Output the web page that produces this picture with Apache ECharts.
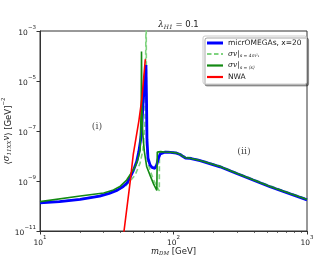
<!DOCTYPE html>
<html><head><meta charset="utf-8">
<script src="https://cdn.jsdelivr.net/npm/echarts@6/dist/echarts.min.js"></script>
<style>html,body{margin:0;padding:0;background:#fff}#c{width:327px;height:260px}</style>
</head><body><div id="c"></div>
<script>
// x: dark matter mass m_DM [GeV], y: <sigma v> [GeV^-2]
const seriesNames = ['micrOMEGAs, x=20', 'sv4m', 'svs', 'NWA'];
const xTicks = [10, 100, 1000];
const yTicks = [1e-11, 1e-9, 1e-7, 1e-5, 1e-3];
const xMinor = [20,30,40,50,60,70,80,90,200,300,400,500,600,700,800,900];

const micrOMEGAs = [[10,1.35e-10],[14,1.5e-10],[20,1.85e-10],[28,2.5e-10],[33,3.2e-10],[38,4.3e-10],[42,6e-10],[45,8.5e-10],[47,1.3e-9],[50,2.6e-9],[53,6e-9],[55,1.5e-8],[57.2,6e-8],[59.4,1.7e-6],[62.2,4.4e-5],[62.8,1.7e-6],[63.3,4.4e-8],[64.4,8.3e-9],[66.7,4.4e-9],[69,3.5e-9],[72.5,3.2e-9],[75,4.5e-9],[77,8e-9],[79.5,1.2e-8],[86,1.42e-8],[95,1.4e-8],[105,1.3e-8],[112,1.15e-8],[118,9.5e-9],[123,8.3e-9],[133,8.0e-9],[158,6.5e-9],[223,3.7e-9],[297,2.0e-9],[528,5.9e-10],[1000,1.75e-10]];

const svS4m2 = [[10,1.37e-10],[14,1.52e-10],[20,1.88e-10],[28,2.55e-10],[33,3.25e-10],[38,4.3e-10],[42,5.8e-10],[44,6.5e-10],[47.2,1e-9],[51.5,1.7e-9],[56.2,5.2e-9],[59,1.7e-8],[61.1,2e-7],[62.45,1e-2],[62.55,1e-2],[62.8,3e-8],[64,6e-9],[67,2.5e-9],[71,1.1e-9],[75,6e-10],[78.3,4e-10],[78.5,1.4e-8],[82,1.55e-8],[86,1.52e-8],[95,1.5e-8],[105,1.4e-8],[112,1.24e-8],[118,1.02e-8],[123,8.9e-9],[133,8.6e-9],[158,7e-9],[223,4e-9],[297,2.15e-9],[528,6.4e-10],[1000,1.9e-10]];

const svSavg = [[10,1.5e-10],[20,2.5e-10],[30,3.3e-10],[35.5,4.4e-10],[40,6.2e-10],[44.6,1.1e-9],[48,2e-9],[51.6,3.7e-9],[54,7e-9],[56.2,1.7e-8],[57.3,1e-6],[57.6,1.5e-4],[57.9,1e-6],[58.8,8.3e-8],[60.5,1.5e-8],[63,3.7e-9],[67,1.6e-9],[71,7.5e-10],[75,4.2e-10],[75.6,1.45e-8],[80,1.5e-8],[86,1.45e-8],[95,1.42e-8],[105,1.32e-8],[112,1.17e-8],[118,9.7e-9],[123,8.5e-9],[133,8.2e-9],[158,6.6e-9],[223,3.8e-9],[297,2.05e-9],[528,6e-10],[1000,1.8e-10]];

const nwa = [[41.5,3e-12],[42.6,1e-11],[47.2,8e-10],[50,1.2e-8],[55,2.5e-7],[58,2e-6],[61.5,7.4e-5]];

const regionLabels = [[26.7,1.45e-7,'(i)'],[337,1.45e-8,'(ii)']];

const FONT = 'DejaVu Sans';
const supRich = {
  b: {fontFamily: FONT, fontSize: 7.5, color: '#222', lineHeight: 12, verticalAlign: 'bottom'},
  e: {fontFamily: FONT, fontSize: 5.5, color: '#222', verticalAlign: 'top'}
};
function powLabel(v) {
  const e = Math.round(Math.log10(v));
  return '{b|10}{e|' + String(e).replace('-', '\u2212') + '}';
}

const chart = echarts.init(document.getElementById('c'), null, {renderer: 'canvas'});
const legendRich = {
  n: {fontFamily: FONT, fontSize: 7.5, color: '#222'},
  it: {fontFamily: 'DejaVu Serif', fontStyle: 'italic', fontSize: 7.5, color: '#222'},
  sub: {fontFamily: 'DejaVu Serif', fontStyle: 'italic', fontSize: 4.5, color: '#222', verticalAlign: 'bottom', lineHeight: 9}
};
const legendFmt = {
  'micrOMEGAs, x=20': '{n|micrOMEGAs, x=20}',
  'sv4m': '{it|σv}{n||}{sub|s = 4m²₁}',
  'svs': '{it|σv}{n||}{sub|s = ⟨s⟩}',
  'NWA': '{n|NWA}'
};
const solidIcon = 'path://M0,0h16v2.2h-16z';
const thickIcon = 'path://M0,0h16v3h-16z';
const dashIcon = 'path://M0,0h4.5v2h-4.5z M7,0h4.5v2h-4.5z M14,0h2v2h-2z';

chart.setOption({
  animation: false,
  backgroundColor: '#fff',
  title: {
    text: '{l|λ}{s|H1}{t| = 0.1}',
    left: 173.5, top: 14, textAlign: 'center',
    textStyle: {
      fontWeight: 'normal',
      rich: {
        l: {fontFamily: 'DejaVu Serif', fontStyle: 'italic', fontWeight: 'normal', fontSize: 8.5, color: '#222'},
        s: {fontFamily: 'DejaVu Serif', fontStyle: 'italic', fontWeight: 'normal', fontSize: 6, color: '#222', verticalAlign: 'bottom', lineHeight: 11},
        t: {fontFamily: FONT, fontWeight: 'normal', fontSize: 8.5, color: '#222'}
      }
    }
  },
  grid: {left: 40, right: 20, top: 31, bottom: 29, containLabel: false, outerBoundsMode: 'none', show: true, borderColor: '#333', borderWidth: 1, backgroundColor: 'transparent'},
  legend: {
    data: [
      {name: seriesNames[0], icon: thickIcon},
      {name: seriesNames[1], icon: dashIcon},
      {name: seriesNames[2], icon: solidIcon},
      {name: seriesNames[3], icon: solidIcon}
    ],
    orient: 'vertical',
    left: 203, top: 36,
    itemWidth: 16, itemHeight: 8, itemGap: 3,
    padding: [3, 5, 3, 4],
    backgroundColor: '#fff', borderColor: '#ccc', borderWidth: 1, borderRadius: 2,
    shadowColor: 'rgba(0,0,0,0.35)', shadowOffsetX: 2, shadowOffsetY: 2, shadowBlur: 0,
    formatter: n => legendFmt[n],
    textStyle: {fontFamily: FONT, fontSize: 7.5, color: '#222', rich: legendRich}
  },
  xAxis: [{
    type: 'log', logBase: 10, min: 10, max: 1000, interval: 1,
    name: '{it|m}{sub|DM}{n| [GeV]}', nameLocation: 'middle', nameGap: 16, nameMoveOverlap: false,
    nameTextStyle: {rich: {
      it: {fontFamily: 'DejaVu Serif', fontStyle: 'italic', fontSize: 8.5, color: '#222'},
      sub: {fontFamily: 'DejaVu Serif', fontStyle: 'italic', fontSize: 5.5, color: '#222', verticalAlign: 'bottom', lineHeight: 10},
      n: {fontFamily: FONT, fontSize: 8.5, color: '#222'}
    }},
    axisLine: {show: true, lineStyle: {color: '#333', width: 1}},
    axisTick: {show: true, length: 3.5, inside: false, lineStyle: {color: '#333'}},
    axisLabel: {formatter: powLabel, margin: 4, rich: supRich},
    splitLine: {show: false}
  }, {
    type: 'log', logBase: 10, min: 10, max: 1000, position: 'bottom',
    axisLine: {show: false},
    axisTick: {show: true, length: 2, customValues: xMinor, lineStyle: {color: '#333', width: 0.7}},
    axisLabel: {show: false},
    splitLine: {show: false}
  }],
  yAxis: {
    type: 'log', logBase: 10, min: 1e-11, max: 1e-3, interval: 2,
    name: '{n|⟨}{it|σ}{sub|11XX}{it|v}{n|⟩ [GeV]}{sup|−2}', nameLocation: 'middle', nameGap: 27, nameRotate: 90, nameMoveOverlap: false,
    nameTextStyle: {rich: {
      it: {fontFamily: 'DejaVu Serif', fontStyle: 'italic', fontSize: 8.5, color: '#222'},
      sub: {fontFamily: 'DejaVu Serif', fontStyle: 'italic', fontSize: 5.5, color: '#222', verticalAlign: 'bottom', lineHeight: 10},
      sup: {fontFamily: FONT, fontSize: 5.5, color: '#222', verticalAlign: 'top'},
      n: {fontFamily: FONT, fontSize: 8.5, color: '#222', lineHeight: 12, verticalAlign: 'bottom'}
    }},
    axisLine: {show: true, lineStyle: {color: '#333', width: 1}},
    axisTick: {show: true, length: 3.5, lineStyle: {color: '#333'}},
    axisLabel: {formatter: powLabel, margin: 4, rich: supRich},
    splitLine: {show: false}
  },
  series: [
    {name: 'micrOMEGAs, x=20', type: 'line', data: micrOMEGAs, symbol: 'none', z: 3,
     lineStyle: {color: '#0000ff', width: 2.8}, itemStyle: {color: '#0000ff'}},
    {name: 'sv4m', type: 'line', data: svS4m2, symbol: 'none', z: 2,
     lineStyle: {color: '#7fd37f', width: 1.6, type: [5, 3]}, itemStyle: {color: '#7fd37f'}},
    {name: 'svs', type: 'line', data: svSavg, symbol: 'none', z: 4,
     lineStyle: {color: '#138a13', width: 1.6}, itemStyle: {color: '#138a13'}},
    {name: 'NWA', type: 'line', data: nwa, symbol: 'none', z: 5,
     lineStyle: {color: '#ff0000', width: 1.6}, itemStyle: {color: '#ff0000'}},
    {name: 'labels', type: 'scatter', symbolSize: 0, silent: true,
     data: regionLabels.map(d => ({value: [d[0], d[1]], label: {formatter: d[2]}})),
     label: {show: true, position: 'inside', fontFamily: 'DejaVu Serif', fontSize: 9.5, color: '#222'}}
  ]
});
</script></body></html>
